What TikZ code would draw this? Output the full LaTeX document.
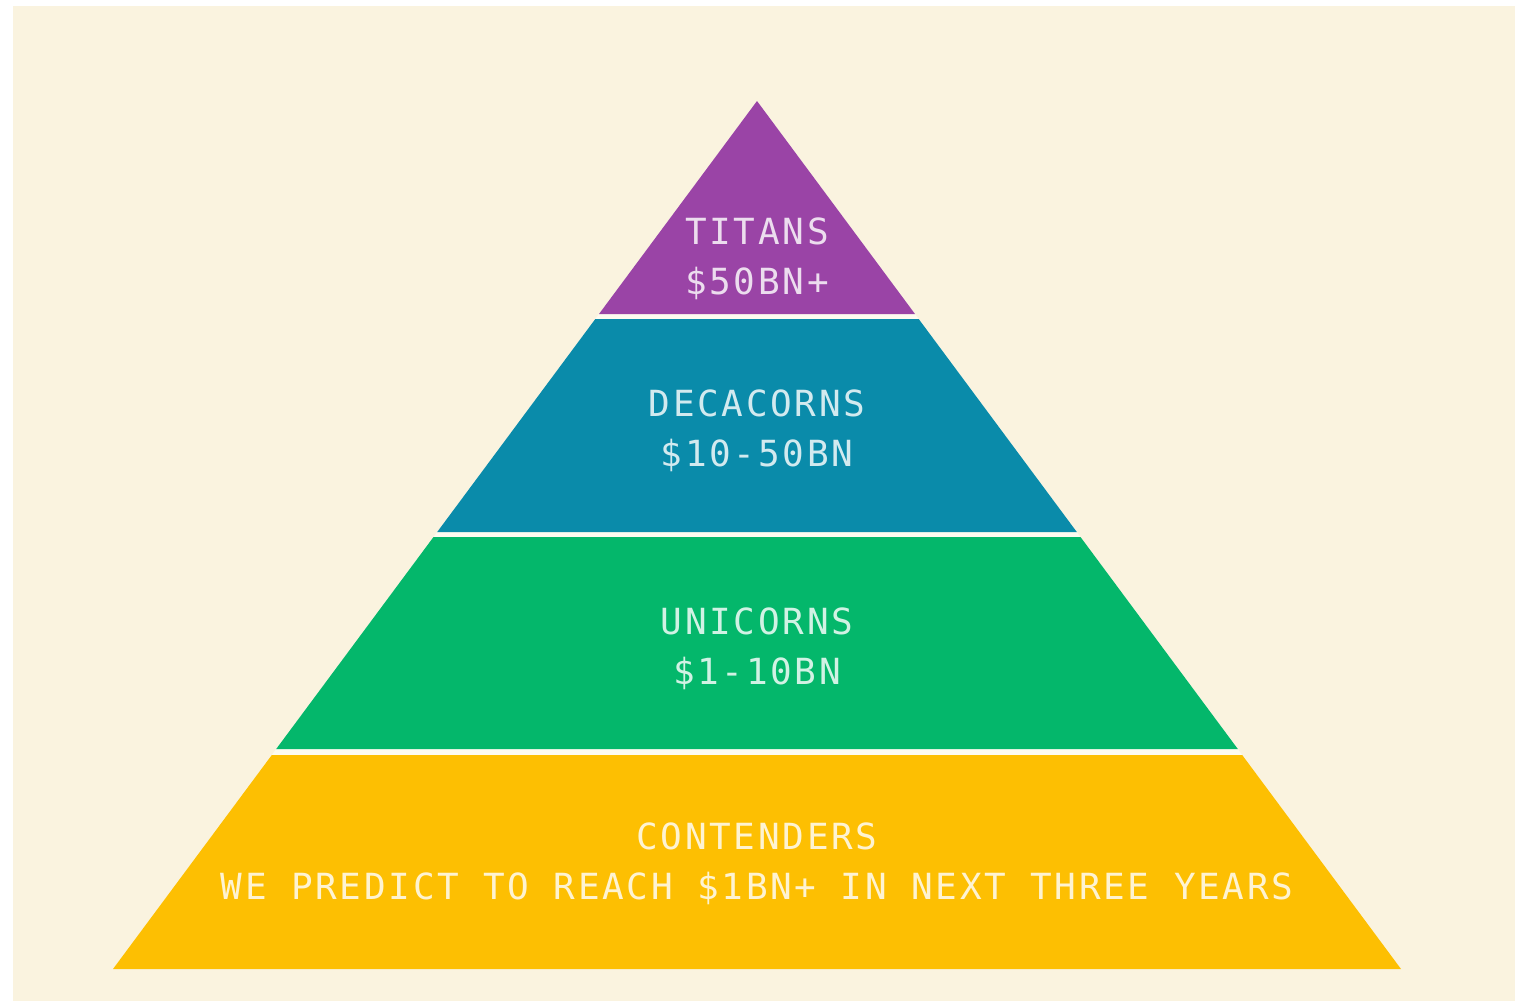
\documentclass[tikz,border=0pt]{standalone}
\usepackage{fontspec}
\newfontfamily\tiermono{DejaVu Sans Mono}[LetterSpace=7.5]
\definecolor{pagecream}{HTML}{FAF3DF}
\definecolor{gapline}{HTML}{FDFBF0}
\definecolor{titanpurple}{HTML}{9A44A6}
\definecolor{decateal}{HTML}{0A8BAA}
\definecolor{unigreen}{HTML}{04B76B}
\definecolor{contyellow}{HTML}{FDBF02}
\begin{document}
\begin{tikzpicture}[x=1pt,y=-1pt,
  tierlabel/.style={align=center,inner sep=0pt,text=white,text opacity=0.82,
    font=\tiermono\fontsize{36}{50}\selectfont}]
% page
\useasboundingbox (0,0) rectangle (1521,1001);
\fill[white] (0,0) rectangle (1521,1001);
\fill[pagecream] (13,6) rectangle (1515,1001);
% light backing that shows through the gaps between tiers
\fill[gapline] (757,101) -- (1401,969) -- (113,969) -- cycle;
% tiers
\fill[titanpurple] (757,101) -- (915.0,314) -- (599.0,314) -- cycle;
\fill[decateal] (595.3,319) -- (918.7,319) -- (1076.8,532) -- (437.2,532) -- cycle;
\fill[unigreen] (433.5,537) -- (1080.5,537) -- (1237.8,749) -- (276.2,749) -- cycle;
\fill[contyellow] (271.8,755) -- (1242.2,755) -- (1401,969) -- (113,969) -- cycle;
% labels
\node[tierlabel] (titans) at (757,259) {TITANS\\\$50BN+};
\node[tierlabel] (decacorns) at (757,431) {DECACORNS\\\$10-50BN};
\node[tierlabel] (unicorns) at (757,649) {UNICORNS\\\$1-10BN};
\node[tierlabel] (contenders) at (757,864) {CONTENDERS\\WE PREDICT TO REACH \$1BN+ IN NEXT THREE YEARS};
\end{tikzpicture}
\end{document}
